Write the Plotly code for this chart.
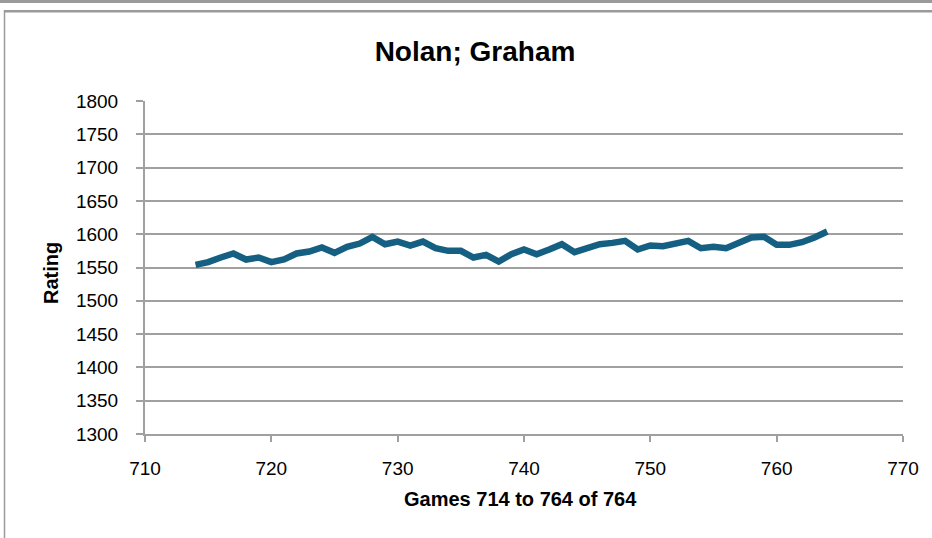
import plotly.graph_objects as go

games = list(range(714, 765))
ratings = [1554, 1558, 1565, 1571, 1562, 1565, 1558, 1562, 1571, 1574,
           1580, 1572, 1581, 1586, 1596, 1585, 1589, 1583, 1589, 1579,
           1575, 1575, 1565, 1569, 1559, 1570, 1577, 1570, 1577, 1585,
           1573, 1580, 1585, 1587, 1590, 1577, 1583, 1582, 1587, 1590,
           1579, 1581, 1579, 1586, 1595, 1596, 1584, 1584, 1588, 1595,
           1604]

title_text = "Nolan; Graham"
x_title = "Games 714 to 764 of 764"
y_title = "Rating"

FONT = "Liberation Sans, Arial, sans-serif"
GRID = "#a0a0a0"

fig = go.Figure()
fig.add_trace(go.Scatter(x=games, y=ratings, mode="lines",
                         line=dict(color="#156082", width=6.5), showlegend=False))

L, R, T, B = 145, 29, 101, 104
W, H = 932, 538
pw, ph = W - L - R, H - T - B

def px(x):
    return (x - L) / pw

def py(y):
    return (H - B - y) / ph

fig.update_layout(
    width=W, height=H,
    margin=dict(l=L, r=R, t=T, b=B, pad=0),
    paper_bgcolor="white", plot_bgcolor="white",
    font=dict(family=FONT, color="#000000", size=19),
    title=dict(text="<b>" + title_text + "</b>", x=475 / W, xanchor="center",
               y=1 - 51 / H, yanchor="middle", font=dict(size=28, family=FONT)),
    xaxis=dict(range=[710, 770], tickvals=list(range(710, 771, 10)),
               showgrid=False, showline=True, linecolor=GRID, linewidth=2,
               ticks="outside", ticklen=6, tickcolor=GRID, tickwidth=2,
               ticklabelstandoff=10,
               zeroline=False, tickfont=dict(size=19)),
    yaxis=dict(range=[1300, 1800], tickvals=list(range(1300, 1801, 50)),
               showgrid=True, gridcolor=GRID, gridwidth=2,
               showline=True, linecolor=GRID, linewidth=2,
               ticks="outside", ticklen=7, tickcolor=GRID, tickwidth=2,
               ticklabelstandoff=14,
               zeroline=False, tickfont=dict(size=19)),
    annotations=[
        dict(text="<b>" + x_title + "</b>", xref="paper", yref="paper",
             x=px(520), y=py(499), xanchor="center", yanchor="middle",
             showarrow=False, font=dict(size=20, family=FONT)),
        dict(text="<b>" + y_title + "</b>", xref="paper", yref="paper",
             x=px(51), y=py(273), xanchor="center", yanchor="middle",
             textangle=-90, showarrow=False, font=dict(size=20, family=FONT)),
    ],
    shapes=[
        dict(type="line", xref="paper", yref="paper", x0=px(0), x1=px(W), y0=py(1.5), y1=py(1.5),
             line=dict(color="#9a9a9a", width=3)),
        dict(type="line", xref="paper", yref="paper", x0=px(4), x1=px(W), y0=py(11.3), y1=py(11.3),
             line=dict(color="#9a9a9a", width=2.6)),
        dict(type="line", xref="paper", yref="paper", x0=px(4.5), x1=px(4.5), y0=py(10), y1=py(H),
             line=dict(color="#9a9a9a", width=1.5)),
    ],
)

fig.write_html("out.html", config={"displayModeBar": False},
               post_script="document.body.style.margin='0';document.body.style.overflow='hidden';")
